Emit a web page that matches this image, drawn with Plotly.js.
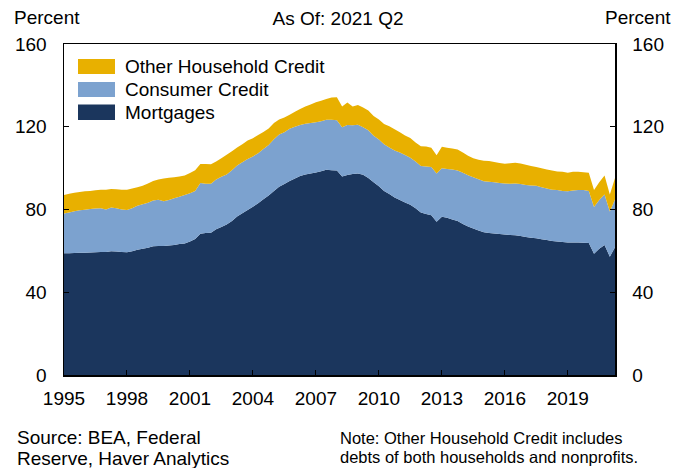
<!DOCTYPE html>
<html><head><meta charset="utf-8">
<script src="https://cdn.plot.ly/plotly-3.0.1.min.js"></script>
<style>html,body{margin:0;padding:0;background:#fff}#chart{width:682px;height:468px}</style>
</head><body><div id="chart"></div>
<script>
// Quarterly, 1995 Q1 .. 2021 Q2 (percent)
const startYear = 1995;
const mortgages = [
 58.8,58.9,59.0,59.1, 59.1,59.2,59.3,59.4, 59.5,59.8,59.7,59.4, 59.3,59.8,60.5,61.0,
 61.5,62.2,62.4,62.3, 62.6,62.9,63.3,63.6, 64.5,65.8,68.3,68.6, 68.8,70.5,71.6,72.7,
 74.5,76.6,78.2,79.8, 81.3,83.0,85.0,86.8, 89.0,91.0,92.3,93.8, 95.0,96.2,96.9,97.4,
 97.9,98.5,99.2,99.0, 98.8,96.0,96.7,97.2, 97.4,96.8,95.2,93.2, 91.2,89.0,87.5,85.8,
 84.6,83.4,82.3,80.6, 78.6,77.8,77.2,74.1, 76.5,76.0,75.2,74.5, 73.0,71.8,70.8,69.8,
 69.0,68.7,68.4,68.2, 67.9,67.7,67.6,67.2, 66.7,66.4,66.1,65.6, 65.2,64.8,64.5,64.3,
 64.0,64.0,64.0,63.9, 63.8,58.6,61.0,62.8, 57.2,61.8
];
const consumerCredit = [
 19.3,19.7,20.1,20.5, 20.8,21.0,21.2,21.2, 20.5,21.2,20.9,20.6, 20.5,20.8,21.3,21.5,
 21.8,22.2,22.3,21.7, 22.0,22.5,22.9,23.4, 23.3,23.2,24.5,23.9, 23.6,24.0,24.2,24.2,
 24.5,24.7,24.6,24.6, 24.3,24.2,24.2,24.4, 25.0,25.2,25.1,25.2, 25.0,24.6,24.5,24.4,
 24.3,24.2,24.2,24.4, 24.4,23.7,24.1,23.5, 23.6,23.0,23.1,22.4, 22.6,22.5,22.5,22.7,
 23.0,22.9,22.7,22.6, 22.4,23.0,23.4,23.3, 23.5,23.6,24.1,24.3, 24.8,24.8,24.8,24.8,
 24.6,24.7,24.8,24.6, 24.7,24.7,25.0,25.1, 25.1,25.2,25.4,25.2, 25.0,24.8,24.9,24.7,
 24.8,25.2,25.4,25.5, 25.2,22.6,23.6,24.4, 21.8,23.0
];
const otherHouseholdCredit = [
 8.9,9.0,9.0,8.9, 8.9,8.8,8.8,8.9, 9.6,8.9,9.2,9.5, 9.8,9.6,9.0,9.0,
 9.3,9.4,9.8,11.0, 10.7,10.2,9.7,9.4, 9.8,10.0,9.2,9.5, 9.5,8.7,9.0,9.6,
 9.2,8.7,8.8,8.9, 8.9,8.8,8.3,8.0, 7.8,7.3,7.1,6.8, 7.2,7.8,8.4,9.0,
 9.6,9.9,10.0,10.7, 11.0,10.1,10.9,9.1, 9.5,9.5,9.5,9.6, 9.7,9.8,10.2,10.3,
 9.8,9.5,9.6,9.2, 9.6,9.6,9.3,8.8, 10.3,10.2,10.2,10.2, 9.8,9.4,9.2,9.4,
 10.0,10.0,9.8,9.7, 9.5,9.9,10.0,9.9, 9.8,9.4,9.1,9.2, 9.1,9.2,9.0,9.2,
 9.0,9.0,8.9,8.6, 8.8,8.2,8.6,9.2, 8.2,10.4
];
const seriesNames = ['Mortgages', 'Consumer Credit', 'Other Household Credit'];
const seriesColors = ['#1b365d', '#7ca2cf', '#e8b000'];
const yTickVals = [0, 40, 80, 120, 160];
const titleText = 'As Of: 2021 Q2';
const yUnit = 'Percent';
const sourceLines = ['Source: BEA, Federal', 'Reserve, Haver Analytics'];
const noteLines = ['Note: Other Household Credit includes', 'debts of both households and nonprofits.'];

// quarter dates
const dates = [];
for (let i = 0; i < mortgages.length; i++) {
  const y = startYear + Math.floor(i / 4);
  const m = (i % 4) * 3 + 1;
  dates.push(y + '-' + String(m).padStart(2, '0') + '-01');
}

const W = 682, H = 468, L = 64, R = 615, T = 44, B = 375;
const fx = p => (p - L) / (R - L);
const fy = p => (B - p) / (B - T);
const FONT = 'Liberation Sans, Arial, sans-serif';

const values = [mortgages, consumerCredit, otherHouseholdCredit];
const traces = values.map((v, k) => ({
  x: dates, y: v, type: 'scatter', mode: 'none', stackgroup: 'one',
  fillcolor: seriesColors[k], line: {width: 0}, name: seriesNames[k],
  showlegend: false, hoverinfo: 'skip'
}));
traces.push({x: [dates[0]], y: [0], yaxis: 'y2', mode: 'none', type: 'scatter', showlegend: false, hoverinfo: 'skip'});

// manual legend (top to bottom: Other, Consumer, Mortgages)
const legendRows = [
  {k: 2, top: 59, bot: 74},
  {k: 1, top: 82, bot: 97},
  {k: 0, top: 104.5, bot: 120}
];
const shapes = legendRows.map(r => ({
  type: 'rect', xref: 'paper', yref: 'paper', x0: fx(78), x1: fx(115),
  y0: fy(r.bot), y1: fy(r.top), fillcolor: seriesColors[r.k], line: {width: 0}
}));
const annotations = legendRows.map(r => ({
  xref: 'paper', yref: 'paper', x: fx(123), y: fy((r.top + r.bot) / 2),
  xanchor: 'left', yanchor: 'middle', showarrow: false, text: seriesNames[r.k],
  font: {family: FONT, size: 19, color: '#000'}
}));
annotations.push(
  {xref: 'paper', yref: 'paper', x: fx(12), y: fy(18), xanchor: 'left', yanchor: 'middle', showarrow: false, text: yUnit, font: {family: FONT, size: 19, color: '#000'}},
  {xref: 'paper', yref: 'paper', x: fx(673), y: fy(18), xanchor: 'right', yanchor: 'middle', showarrow: false, text: yUnit, font: {family: FONT, size: 19, color: '#000'}},
  {xref: 'paper', yref: 'paper', x: fx(15), y: fy(437), xanchor: 'left', yanchor: 'middle', showarrow: false, text: sourceLines[0], font: {family: FONT, size: 19, color: '#000'}},
  {xref: 'paper', yref: 'paper', x: fx(15), y: fy(458), xanchor: 'left', yanchor: 'middle', showarrow: false, text: sourceLines[1], font: {family: FONT, size: 19, color: '#000'}},
  {xref: 'paper', yref: 'paper', x: fx(338), y: fy(438), xanchor: 'left', yanchor: 'middle', showarrow: false, text: noteLines[0], font: {family: FONT, size: 16.5, color: '#000'}},
  {xref: 'paper', yref: 'paper', x: fx(338), y: fy(457), xanchor: 'left', yanchor: 'middle', showarrow: false, text: noteLines[1], font: {family: FONT, size: 16.5, color: '#000'}}
);

const yCommon = {
  range: [0, 160], tickmode: 'array', tickvals: yTickVals, ticks: 'inside', ticklen: 5,
  tickwidth: 1, tickcolor: '#000', showline: true, linecolor: '#000', linewidth: 1.5,
  showgrid: false, zeroline: false, fixedrange: true,
  tickfont: {family: FONT, size: 19, color: '#000'}, ticklabelstandoff: 12
};

const layout = {
  width: W, height: H,
  margin: {l: L, r: W - R, t: T, b: H - B, pad: 0},
  paper_bgcolor: '#fff', plot_bgcolor: '#fff',
  showlegend: false,
  title: {text: titleText, x: 338 / W, xref: 'container', y: 1 - 18 / H, yref: 'container', xanchor: 'center', yanchor: 'middle', font: {family: FONT, size: 19, color: '#000'}},
  xaxis: {
    type: 'date', range: [dates[0], dates[dates.length - 1]],
    tickmode: 'linear', tick0: '1995-01-01', dtick: 'M36', tickformat: '%Y',
    ticks: 'inside', ticklen: 5, tickwidth: 1, tickcolor: '#000',
    showline: true, mirror: true, linecolor: '#000', linewidth: 1.5,
    showgrid: false, zeroline: false, fixedrange: true,
    tickfont: {family: FONT, size: 19, color: '#000'}, ticklabelstandoff: 6
  },
  yaxis: Object.assign({}, yCommon, {side: 'left'}),
  yaxis2: Object.assign({}, yCommon, {side: 'right', overlaying: 'y'}),
  shapes: shapes,
  annotations: annotations
};

Plotly.newPlot('chart', traces, layout, {staticPlot: true, displayModeBar: false});
</script>
</body></html>
